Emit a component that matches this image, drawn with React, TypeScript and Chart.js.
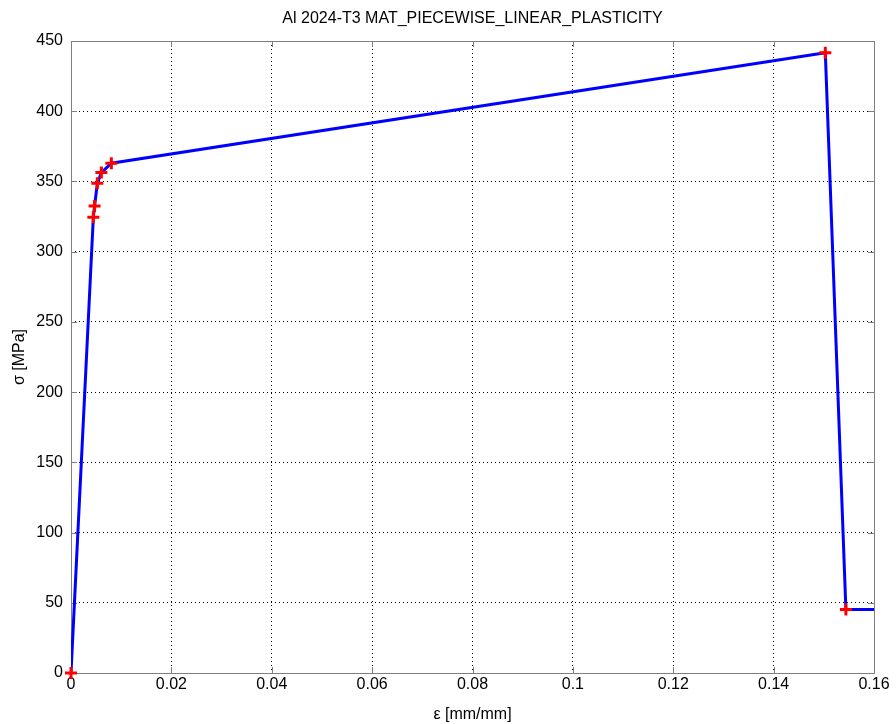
import React, { useEffect, useRef } from "react";
import { Chart, registerables } from "chart.js";

Chart.register(...registerables);

const TITLE = "Al 2024-T3 MAT_PIECEWISE_LINEAR_PLASTICITY";
const X_LABEL = "ε [mm/mm]";
const Y_LABEL = "σ [MPa]";

const strain = [0, 0.00445, 0.0047, 0.00525, 0.00605, 0.00804, 0.1503, 0.1544];
const stress = [0, 324.5, 332.5, 348.7, 356.3, 363, 441.7, 45.3];
// tail of the curve continuing beyond the visible axis range
const tailStrain = [0.17];
const tailStress = [45.3];

const X_MIN = 0, X_MAX = 0.16, X_STEP = 0.02;
const Y_MIN = 0, Y_MAX = 450, Y_STEP = 50;

const FONT = "'Liberation Sans', Arial, sans-serif";

export default function App() {
  const ref = useRef<HTMLCanvasElement>(null);
  useEffect(() => {
    document.body.style.margin = "0";
    const canvas = ref.current!;
    const linePts = strain.map((x, i) => ({ x, y: stress[i] }))
      .concat(tailStrain.map((x, i) => ({ x, y: tailStress[i] })));
    const markPts = strain.map((x, i) => ({ x, y: stress[i] }));

    const boxPlugin = {
      id: "box",
      beforeDatasetsDraw(chart: any) {
        const { ctx, chartArea: a, scales } = chart;
        ctx.save();
        ctx.strokeStyle = "#7f7f7f";
        ctx.lineWidth = 1;
        ctx.strokeRect(Math.round(a.left) + 0.5, Math.round(a.top) + 0.5,
          Math.round(a.right - a.left), Math.round(a.bottom - a.top));
        const tl = 6;
        ctx.beginPath();
        for (let v = X_MIN; v <= X_MAX + 1e-9; v += X_STEP) {
          const px = Math.round(scales.x.getPixelForValue(v)) + 0.5;
          ctx.moveTo(px, a.bottom); ctx.lineTo(px, a.bottom - tl);
          ctx.moveTo(px, a.top); ctx.lineTo(px, a.top + tl);
        }
        for (let v = Y_MIN; v <= Y_MAX + 1e-9; v += Y_STEP) {
          const py = Math.round(scales.y.getPixelForValue(v)) + 0.5;
          ctx.moveTo(a.left, py); ctx.lineTo(a.left + tl, py);
          ctx.moveTo(a.right, py); ctx.lineTo(a.right - tl, py);
        }
        ctx.stroke();
        ctx.restore();
      },
      afterDraw(chart: any) {
        const { ctx, chartArea: a } = chart;
        ctx.save();
        ctx.fillStyle = "#000";
        ctx.font = `16px ${FONT}`;
        ctx.textAlign = "center";
        ctx.textBaseline = "middle";
        ctx.fillText(TITLE, (a.left + a.right) / 2, 19);
        ctx.restore();
      },
    };

    const chart = new Chart(canvas, {
      type: "scatter",
      data: {
        datasets: [
          {
            data: markPts,
            showLine: false,
            pointStyle: "cross",
            pointRadius: 6,
            pointBorderWidth: 3,
            pointBorderColor: "#ff0000",
            pointBackgroundColor: "#ff0000",
            clip: false,
            order: 0,
          },
          {
            data: linePts,
            showLine: true,
            borderColor: "#0000ff",
            borderWidth: 3,
            pointRadius: 0,
            order: 1,
          },
        ],
      },
      options: {
        animation: false,
        responsive: false,
        layout: { padding: { top: 41, right: 22, left: 0, bottom: 0 } },
        plugins: { legend: { display: false }, tooltip: { enabled: false } },
        scales: {
          x: {
            type: "linear",
            min: X_MIN, max: X_MAX,
            afterFit: (s: any) => { s.height = 51; },
            ticks: {
              stepSize: X_STEP,
              color: "#000",
              font: { family: FONT, size: 16 },
              padding: 2,
              maxRotation: 0,
              callback: (v: any) => String(Number(Number(v).toFixed(2))),
            },
            grid: { color: "#000", lineWidth: 1, drawTicks: false },
            border: { display: false, dash: [1, 3] },
            title: {
              display: true, text: X_LABEL, color: "#000",
              font: { family: FONT, size: 16 }, padding: { top: 2, bottom: 0 },
            },
          },
          y: {
            type: "linear",
            min: Y_MIN, max: Y_MAX,
            afterFit: (s: any) => { s.width = 71; },
            ticks: {
              stepSize: Y_STEP,
              color: "#000",
              font: { family: FONT, size: 16 },
              padding: 8,
            },
            grid: { color: "#000", lineWidth: 1, drawTicks: false },
            border: { display: false, dash: [1, 3] },
            title: {
              display: true, text: Y_LABEL, color: "#000",
              font: { family: FONT, size: 16 }, padding: { top: 10, bottom: 6 },
            },
          },
        },
      },
      plugins: [boxPlugin],
    } as any);
    return () => chart.destroy();
  }, []);
  return <canvas ref={ref} width={896} height={724} style={{ display: "block" }} />;
}
